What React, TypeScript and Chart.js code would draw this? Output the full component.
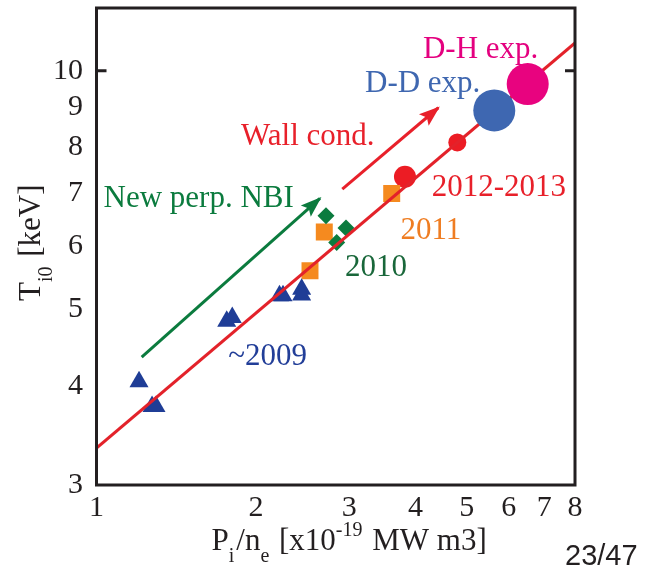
import { useEffect, useRef } from 'react';
import { Chart, registerables } from 'chart.js';

Chart.register(...registerables);

// ---- tick values ----
const xTickValues = [1, 2, 3, 4, 5, 6, 7, 8];
const yTickValues = [3, 4, 5, 6, 7, 8, 9, 10];

// ---- data (P_i/n_e , T_i0) ----
const y2009X = [1.203, 1.273, 1.295, 1.761, 1.804, 2.215, 2.249, 2.439, 2.439];
const y2009Y = [4.05, 3.77, 3.77, 4.83, 4.88, 5.2, 5.2, 5.3, 5.21];

const y2010X = [2.711, 2.957, 2.84];
const y2010Y = [6.56, 6.33, 6.07];

const y2011X = [2.529, 2.691, 3.607];
const y2011Y = [5.59, 6.26, 7.0];

const y2012X = [3.821, 4.797];
const y2012Y = [7.35, 8.12];

const ddX = [5.633];
const ddY = [8.91];

const dhX = [6.514];
const dhY = [9.62];

const fitX = [1, 8];
const fitY = [3.34, 10.84];

const nbiArrowX = [1.217, 2.641];
const nbiArrowY = [4.35, 6.9];

const wallArrowX = [2.91, 4.417];
const wallArrowY = [7.09, 8.98];

// annotation labels, anchored in data coordinates (left / baseline)
const labelTexts = ['D-H exp.', 'D-D exp.', 'Wall cond.', 'New perp. NBI', '2012-2013', '2011', '2010', '~2009'];
const labelX = [4.132, 3.212, 1.874, 1.031, 4.292, 3.747, 2.944, 1.773];
const labelY = [10.38, 9.41, 8.06, 6.73, 6.95, 6.13, 5.51, 4.25];
const labelColors = ['#e4007f', '#3f67b0', '#e8202a', '#0b7b3e', '#e8202a', '#ef7d22', '#19673a', '#223e98'];

const SERIF = '"Liberation Serif", "Times New Roman", serif';
const INK = '#231f20';

const zip = (xs: number[], ys: number[]) => xs.map((x, i) => ({ x, y: ys[i] }));

type Run = { t: string; mode?: 'sub' | 'sup' };

function drawRuns(ctx: CanvasRenderingContext2D, runs: Run[], x: number, y: number) {
  let cx = x;
  for (const r of runs) {
    const small = r.mode === 'sub' || r.mode === 'sup';
    ctx.font = `${small ? 20 : 31}px ${SERIF}`;
    const dy = r.mode === 'sub' ? 12 : r.mode === 'sup' ? -14 : 0;
    ctx.fillText(r.t, cx, y + dy);
    cx += ctx.measureText(r.t).width + (small ? 2 : 0);
  }
}

const decorPlugin = {
  id: 'decor',
  afterDatasetsDraw(chart: any) {
    const { ctx } = chart;
    // arrow heads
    chart.data.datasets.forEach((ds: any, i: number) => {
      if (!ds.arrowHead) return;
      const meta = chart.getDatasetMeta(i);
      const p0 = meta.data[0];
      const p1 = meta.data[meta.data.length - 1];
      const ang = Math.atan2(p1.y - p0.y, p1.x - p0.x);
      const L = 19;
      const W = 7.5;
      ctx.save();
      ctx.fillStyle = ds.borderColor;
      ctx.translate(p1.x, p1.y);
      ctx.rotate(ang);
      ctx.beginPath();
      ctx.moveTo(2, 0);
      ctx.lineTo(-L, -W);
      ctx.lineTo(-L + 4, 0);
      ctx.lineTo(-L, W);
      ctx.closePath();
      ctx.fill();
      ctx.restore();
    });
  },
  afterDraw(chart: any) {
    const { ctx, chartArea: a, scales } = chart;
    ctx.save();
    // frame
    ctx.strokeStyle = INK;
    ctx.lineWidth = 3;
    ctx.strokeRect(a.left, a.top, a.right - a.left, a.bottom - a.top);
    const y10 = scales.y.getPixelForValue(10);
    ctx.beginPath();
    ctx.moveTo(a.left, y10);
    ctx.lineTo(a.left + 10, y10);
    ctx.moveTo(a.right, y10);
    ctx.lineTo(a.right - 10, y10);
    ctx.stroke();

    // annotations
    ctx.textAlign = 'left';
    ctx.textBaseline = 'alphabetic';
    ctx.font = `31px ${SERIF}`;
    labelTexts.forEach((t, i) => {
      ctx.fillStyle = labelColors[i];
      ctx.fillText(t, scales.x.getPixelForValue(labelX[i]), scales.y.getPixelForValue(labelY[i]));
    });

    // x axis title
    ctx.fillStyle = INK;
    drawRuns(
      ctx,
      [
        { t: 'P' },
        { t: 'i', mode: 'sub' },
        { t: '/n' },
        { t: 'e', mode: 'sub' },
        { t: ' [x10' },
        { t: '-19', mode: 'sup' },
        { t: ' MW m3]' },
      ],
      a.left + 115,
      550
    );

    // y axis title (rotated)
    ctx.save();
    ctx.translate(40, 301);
    ctx.rotate(-Math.PI / 2);
    drawRuns(ctx, [{ t: 'T' }, { t: 'i0', mode: 'sub' }, { t: ' [keV]' }], 0, 0);
    ctx.restore();

    // page number
    ctx.font = '29px "Liberation Sans", Arial, sans-serif';
    ctx.fillStyle = '#231f20';
    ctx.fillText('23/47', 565, 565);
    ctx.restore();
  },
};

export default function App() {
  const ref = useRef<HTMLCanvasElement>(null);

  useEffect(() => {
    const canvas = ref.current;
    if (!canvas) return;
    const marker = (data: { x: number; y: number }[], color: string, style: string, radius: number | number[], order: number) => ({
      type: 'scatter' as const,
      data,
      pointStyle: style,
      pointRadius: radius,
      pointHoverRadius: radius,
      pointBackgroundColor: color,
      pointBorderWidth: 0,
      showLine: false,
      order,
    });
    const chart = new Chart(canvas, {
      type: 'scatter',
      data: {
        datasets: [
          marker(zip(y2009X, y2009Y), '#1f3d96', 'triangle', 11, 3),
          marker(zip(y2010X, y2010Y), '#0b7b3e', 'rectRot', 8.5, 3),
          marker(zip(y2011X, y2011Y), '#f58a1f', 'rect', 12, 3),
          marker(zip(y2012X, y2012Y), '#ec1c24', 'circle', [11, 9], 3),
          {
            type: 'line',
            data: zip(fitX, fitY),
            borderColor: '#e3222a',
            borderWidth: 3,
            pointRadius: 0,
            fill: false,
            order: 2,
          },
          marker(zip(ddX, ddY), '#3e67b1', 'circle', 21, 1),
          marker(zip(dhX, dhY), '#e8037f', 'circle', 21, 0),
          {
            type: 'line',
            data: zip(nbiArrowX, nbiArrowY),
            borderColor: '#0b7b3e',
            borderWidth: 3,
            borderCapStyle: 'butt',
            pointRadius: 0,
            fill: false,
            order: 4,
            arrowHead: true,
          } as any,
          {
            type: 'line',
            data: zip(wallArrowX, wallArrowY),
            borderColor: '#e8202a',
            borderWidth: 3,
            borderCapStyle: 'butt',
            pointRadius: 0,
            fill: false,
            order: 4,
            arrowHead: true,
          } as any,
        ] as any,
      },
      options: {
        responsive: false,
        animation: false,
        events: [],
        layout: { autoPadding: false, padding: { top: 8, right: 87, left: 0, bottom: 0 } },
        plugins: {
          legend: { display: false },
          tooltip: { enabled: false },
        },
        scales: {
          x: {
            type: 'logarithmic',
            min: 1,
            max: 8,
            position: 'bottom',
            grid: { display: false, drawTicks: false },
            border: { display: false },
            ticks: {
              autoSkip: false,
              maxRotation: 0,
              padding: 5,
              color: INK,
              font: { family: SERIF, size: 30 },
              callback: (v: any) => String(v),
            },
            afterBuildTicks: (s: any) => {
              s.ticks = xTickValues.map((v) => ({ value: v }));
            },
            afterFit: (s: any) => {
              s.height = 83;
              s.paddingLeft = 0;
              s.paddingRight = 0;
            },
          },
          y: {
            type: 'logarithmic',
            min: 3,
            max: 12,
            position: 'left',
            grid: { display: false, drawTicks: false },
            border: { display: false },
            ticks: {
              autoSkip: false,
              padding: 13.5,
              color: INK,
              font: { family: SERIF, size: 30 },
              callback: (v: any) => String(v),
            },
            afterBuildTicks: (s: any) => {
              s.ticks = yTickValues.map((v) => ({ value: v }));
            },
            afterFit: (s: any) => {
              s.width = 96.5;
              s.paddingTop = 0;
              s.paddingBottom = 0;
            },
          },
        },
      },
      plugins: [decorPlugin],
    } as any);
    return () => chart.destroy();
  }, []);

  return (
    <div style={{ position: 'fixed', left: 0, top: 0, width: 662, height: 568, background: '#ffffff' }}>
      <canvas ref={ref} width={662} height={568} style={{ display: 'block' }} />
    </div>
  );
}
